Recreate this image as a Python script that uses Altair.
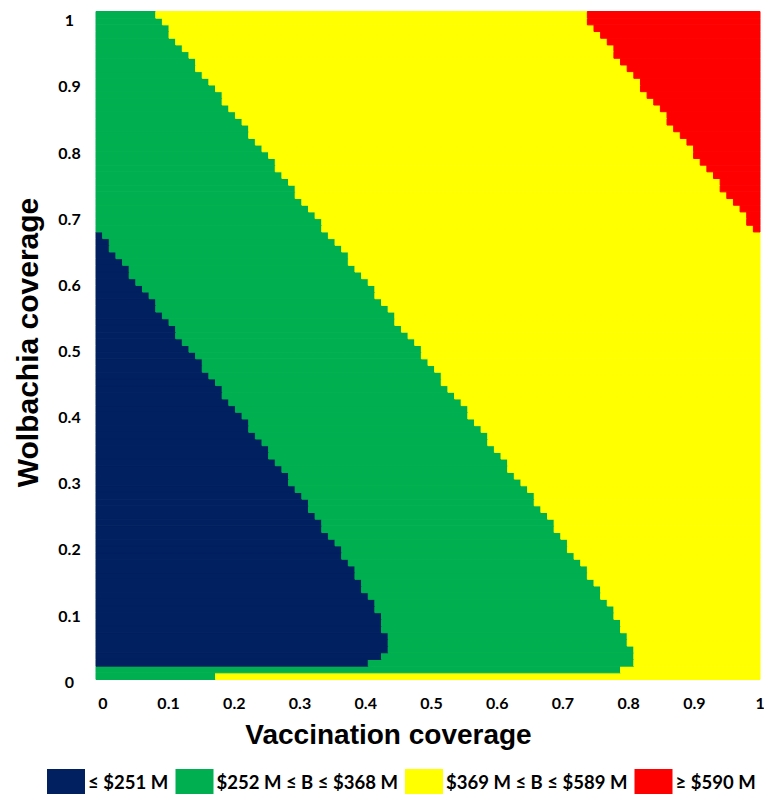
import altair as alt
import pandas as pd

# Grid: 100 vaccination-coverage columns x 100 Wolbachia-coverage rows.
# For every row (bottom row first) the column index where each band ends.
navy_end = [0, 0, 41, 43, 44, 44, 44, 43, 43, 43,
            42, 42, 41, 40, 40, 39, 39, 38, 37, 37,
            36, 35, 34, 34, 33, 32, 32, 31, 30, 29,
            29, 28, 27, 26, 26, 25, 24, 23, 23, 22,
            21, 20, 19, 19, 18, 17, 16, 16, 15, 14,
            13, 12, 12, 11, 10, 9, 9, 8, 7, 6,
            5, 5, 4, 3, 2, 2, 1, 0, 0, 0,
            0, 0, 0, 0, 0, 0, 0, 0, 0, 0,
            0, 0, 0, 0, 0, 0, 0, 0, 0, 0,
            0, 0, 0, 0, 0, 0, 0, 0, 0, 0]

green_end = [18, 79, 81, 81, 81, 80, 80, 79, 79, 78,
             78, 77, 76, 76, 75, 74, 74, 73, 72, 71,
             71, 70, 69, 69, 68, 67, 66, 66, 65, 64,
             63, 62, 62, 61, 60, 59, 59, 58, 57, 56,
             56, 55, 54, 53, 52, 52, 51, 50, 49, 49,
             48, 47, 46, 45, 45, 44, 43, 42, 42, 41,
             40, 39, 38, 38, 37, 36, 35, 34, 34, 33,
             32, 31, 30, 30, 29, 28, 27, 27, 26, 25,
             24, 23, 23, 22, 21, 20, 19, 19, 18, 17,
             16, 15, 15, 14, 13, 12, 11, 11, 10, 9]

red_start = [100] * 67 + [99, 98, 98, 97, 96, 95, 94, 94, 93, 92,
                          91, 90, 90, 89, 88, 87, 86, 86, 85, 84,
                          83, 82, 82, 81, 80, 79, 78, 78, 77, 76,
                          75, 74, 74]

categories = ["≤ $251 M", "$252 M ≤ B ≤ $368 M", "$369 M ≤ B ≤ $589 M", "≥ $590 M"]
colors = ["#002060", "#00B050", "#FFFF00", "#FF0000"]
tick_values = [0, 0.1, 0.2, 0.3, 0.4, 0.5, 0.6, 0.7, 0.8, 0.9, 1]

n = 100
step = n - 1
rows = []
for r in range(n):
    bounds = [0, navy_end[r], green_end[r], red_start[r], n]
    for k in range(4):
        a, b = bounds[k], bounds[k + 1]
        if b > a:
            rows.append({
                "x0": (a - 0.5) / step, "x1": (b - 0.5) / step,
                "y0": (r - 0.5) / step, "y1": (r + 0.5) / step,
                "band": categories[k],
            })
df = pd.DataFrame(rows)

dom = [-0.5 / step, (n - 0.5) / step]

chart = alt.Chart(df).mark_rect(strokeWidth=1).encode(
    x=alt.X("x0:Q", scale=alt.Scale(domain=dom, nice=False, zero=False),
            axis=alt.Axis(values=tick_values, format=".1~f", title="Vaccination coverage",
                          titleFont="Liberation Sans", titleFontSize=28, titleFontWeight="bold",
                          titleColor="black", titleX=292, titleY=56, titleAlign="center",
                          titleBaseline="middle", titleAnchor="middle",
                          labelFont="Lato", labelFontSize=16, labelFontWeight="bold",
                          labelColor="black", labelPadding=24, labelBaseline="middle",
                          labelOffset=3, labelFlush=False, ticks=False, domain=False,
                          grid=False)),
    x2="x1:Q",
    y=alt.Y("y0:Q", scale=alt.Scale(domain=dom, nice=False, zero=False),
            axis=alt.Axis(values=tick_values, format=".1~f", title="Wolbachia coverage",
                          titleFont="Liberation Sans", titleFontSize=30, titleFontWeight="bold",
                          titleColor="black", titleX=-68, titleY=330.5, titleAlign="center",
                          titleBaseline="middle", titleAngle=270,
                          labelFont="Lato", labelFontSize=16, labelFontWeight="bold",
                          labelColor="black", labelPadding=27, labelAlign="center",
                          labelOffset=6, labelFlush=False, ticks=False, domain=False,
                          grid=False)),
    y2="y1:Q",
    color=alt.Color("band:N", scale=alt.Scale(domain=categories, range=colors),
                    legend=alt.Legend(orient="none", legendX=-49, legendY=752,
                                      direction="horizontal", title=None,
                                      symbolType="M-1,-0.737H1V0.737H-1Z", symbolSize=1444,
                                      symbolStrokeWidth=0, symbolOpacity=1,
                                      labelFont="Lato", labelFontSize=18.5,
                                      labelFontWeight="bold", labelColor="black",
                                      labelOffset=3, columnPadding=6.5, labelLimit=400,
                                      padding=0)),
    stroke=alt.Color("band:N", scale=alt.Scale(domain=categories, range=colors), legend=None),
).properties(
    width=664, height=668,
    autosize=alt.AutoSizeParams(type="none"),
    padding={"left": 88, "top": 3.5, "right": 4, "bottom": 130},
).configure_view(strokeWidth=0)

chart.save("out.html", embed_options={"renderer": "svg", "actions": False})
